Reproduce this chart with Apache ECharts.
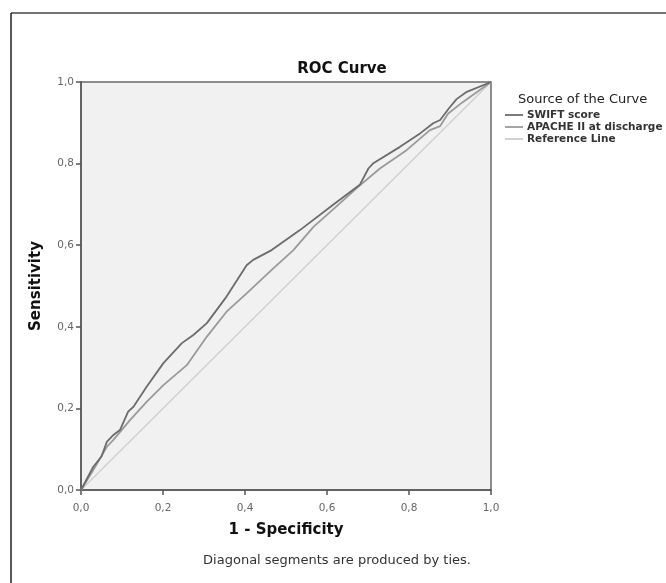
<!DOCTYPE html>
<html><head><meta charset="utf-8">
<script src="https://cdn.jsdelivr.net/npm/echarts@6/dist/echarts.min.js"></script>
<style>html,body{margin:0;padding:0;background:#fff}#c{width:666px;height:583px}</style>
</head><body><div id="c"></div>
<script>
const xTicks = [0, 0.2, 0.4, 0.6, 0.8, 1.0];
const swiftX = [0, 0.030, 0.050, 0.063, 0.079, 0.095, 0.115, 0.128, 0.160, 0.201, 0.246, 0.274, 0.307, 0.355, 0.404, 0.420, 0.465, 0.534, 0.615, 0.680, 0.701, 0.713, 0.778, 0.827, 0.859, 0.876, 0.897, 0.916, 0.941, 1];
const swiftY = [0, 0.057, 0.082, 0.118, 0.135, 0.147, 0.192, 0.204, 0.253, 0.311, 0.360, 0.380, 0.409, 0.474, 0.551, 0.564, 0.588, 0.637, 0.699, 0.748, 0.788, 0.801, 0.841, 0.874, 0.899, 0.907, 0.935, 0.958, 0.976, 1];
const apacheX = [0, 0.030, 0.063, 0.079, 0.120, 0.160, 0.201, 0.258, 0.307, 0.355, 0.404, 0.469, 0.518, 0.567, 0.632, 0.676, 0.729, 0.794, 0.851, 0.876, 0.895, 0.930, 1];
const apacheY = [0, 0.049, 0.106, 0.123, 0.172, 0.216, 0.257, 0.306, 0.376, 0.437, 0.482, 0.543, 0.588, 0.645, 0.703, 0.743, 0.788, 0.833, 0.882, 0.892, 0.922, 0.950, 1];
const refX = [0, 1];
const refY = [0, 1];
const seriesNames = ['SWIFT score', 'APACHE II at discharge', 'Reference Line'];

const zip = (a, b) => a.map((v, i) => [v, b[i]]);
const font = '"DejaVu Sans", sans-serif';
const fmt = v => v.toFixed(1).replace('.', ',');
const lineIcon = 'path://M0,0 L20,0 L20,2 L0,2 Z';

const chart = echarts.init(document.getElementById('c'));
chart.setOption({
  animation: false,
  backgroundColor: '#fff',
  title: [
    { text: 'ROC Curve', left: 337, top: 57, textAlign: 'center',
      textStyle: { fontFamily: font, fontSize: 15, fontWeight: 'bold', color: '#111' } },
    { text: 'Source of the Curve', left: 513, top: 88,
      textStyle: { fontFamily: font, fontSize: 13, fontWeight: 'normal', color: '#222' } }
  ],
  legend: {
    orient: 'vertical', left: 505, top: 109, padding: 0, itemWidth: 18, itemHeight: 2, itemGap: 0,
    icon: lineIcon,
    data: seriesNames,
    textStyle: { fontFamily: font, fontSize: 10.5, lineHeight: 12, fontWeight: 'bold', color: '#333', padding: [0,0,0,-1] }
  },
  grid: { left: 81, top: 82, width: 410, height: 408, show: true,
    backgroundColor: '#f1f1f1', borderColor: '#6a6a6a', borderWidth: 1.5 },
  xAxis: {
    type: 'value', min: 0, max: 1, interval: 0.2,
    name: '1 - Specificity', nameLocation: 'middle', nameGap: 33,
    nameTextStyle: { fontFamily: font, fontSize: 15, fontWeight: 'bold', color: '#111' },
    axisLine: { show: true, lineStyle: { color: '#555', width: 1.5 } },
    axisTick: { show: true, length: 5, lineStyle: { color: '#555', width: 1.5 } },
    axisLabel: { formatter: fmt, fontFamily: font, fontSize: 10.5, color: '#666', margin: 13 },
    splitLine: { show: false }
  },
  yAxis: {
    type: 'value', min: 0, max: 1, interval: 0.2,
    name: 'Sensitivity', nameLocation: 'middle', nameGap: 37,
    nameTextStyle: { fontFamily: font, fontSize: 15, fontWeight: 'bold', color: '#111' },
    axisLine: { show: true, lineStyle: { color: '#555', width: 1.5 } },
    axisTick: { show: true, length: 5, lineStyle: { color: '#555', width: 1.5 } },
    axisLabel: { formatter: fmt, fontFamily: font, fontSize: 10.5, color: '#666', margin: 7 },
    splitLine: { show: false }
  },
  graphic: [
    { type: 'line', shape: { x1: 11, y1: 13, x2: 666, y2: 13 }, style: { stroke: '#444', lineWidth: 1.5 } },
    { type: 'line', shape: { x1: 11, y1: 13, x2: 11, y2: 583 }, style: { stroke: '#222', lineWidth: 1.5 } },
    { type: 'text', x: 337, y: 561,
      style: { text: 'Diagonal segments are produced by ties.', fontFamily: font, fontSize: 13, fill: '#333',
        textAlign: 'center', textVerticalAlign: 'middle' } }
  ],
  series: [
    { name: seriesNames[0], type: 'line', data: zip(swiftX, swiftY), symbol: 'none', z: 4,
      lineStyle: { color: '#6c6c6c', width: 1.8 }, itemStyle: { color: '#6c6c6c' } },
    { name: seriesNames[1], type: 'line', data: zip(apacheX, apacheY), symbol: 'none', z: 3,
      lineStyle: { color: '#9a9a9a', width: 1.8 }, itemStyle: { color: '#9a9a9a' } },
    { name: seriesNames[2], type: 'line', data: zip(refX, refY), symbol: 'none', z: 2,
      lineStyle: { color: '#cdcdcd', width: 1.2 }, itemStyle: { color: '#cdcdcd' } }
  ]
});
</script></body></html>
